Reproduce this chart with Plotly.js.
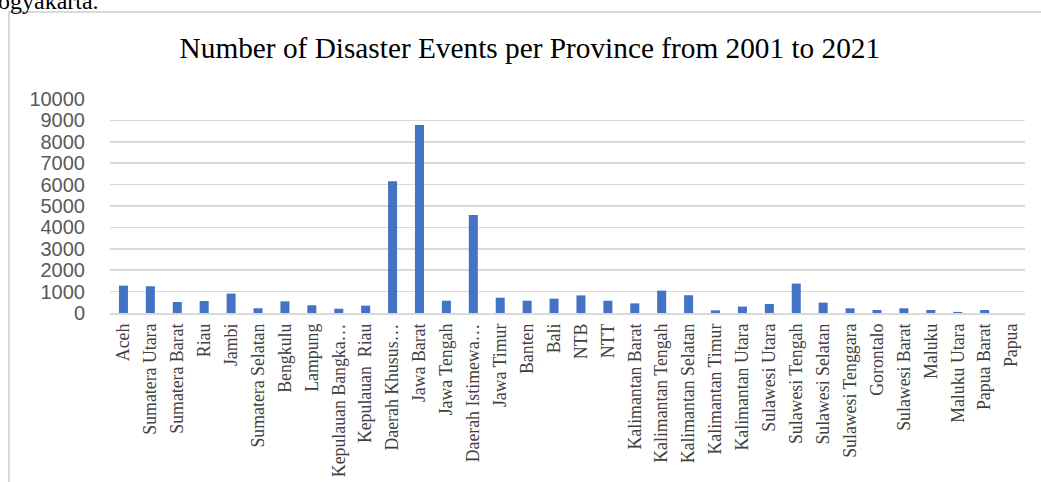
<!DOCTYPE html>
<html>
<head>
<meta charset="utf-8">
<script src="https://cdn.plot.ly/plotly-3.0.1.min.js"></script>
<style>
  html, body { margin: 0; padding: 0; background: #fff; overflow: hidden; }
  #wrap { position: relative; width: 1041px; height: 482px; overflow: hidden; }
  #frame { position: absolute; left: 8px; top: 11px; width: 1100px; height: 600px;
           border-left: 2px solid #d9d9d9; border-top: 2px solid #d9d9d9; box-sizing: border-box; }
  #doc { position: absolute; left: -2px; top: -12px; font-family: "Liberation Serif", "Times New Roman", serif;
         font-size: 24px; line-height: 26px; color: #000; white-space: nowrap; }
  #chart { position: absolute; left: 0; top: 0; width: 1041px; height: 482px; }
</style>
</head>
<body>
<div id="wrap">
  <div id="frame"></div>
  <div id="chart"></div>
  <div id="doc">ogyakarta.</div>
</div>
<script>
const provinces = [
  "Aceh", "Sumatera Utara", "Sumatera Barat", "Riau", "Jambi", "Sumatera Selatan",
  "Bengkulu", "Lampung", "Kepulauan Bangka…", "Kepulauan  Riau", "Daerah Khusus…",
  "Jawa Barat", "Jawa Tengah", "Daerah Istimewa…", "Jawa Timur", "Banten", "Bali",
  "NTB", "NTT", "Kalimantan Barat", "Kalimantan Tengah", "Kalimantan Selatan",
  "Kalimantan Timur", "Kalimantan Utara", "Sulawesi Utara", "Sulawesi Tengah",
  "Sulawesi Selatan", "Sulawesi Tenggara", "Gorontalo", "Sulawesi Barat", "Maluku",
  "Maluku Utara", "Papua Barat", "Papua"
];
const events = [
  1280, 1250, 515, 560, 905, 220,
  545, 360, 200, 345, 6160,
  8790, 575, 4580, 715, 575, 668,
  823, 575, 450, 1045, 830,
  125, 300, 420, 1375,
  485, 220, 140, 220, 140,
  50, 140, 0
];
const yTicks = [0, 1000, 2000, 3000, 4000, 5000, 6000, 7000, 8000, 9000, 10000];
const chartTitle = "Number of Disaster Events per Province from 2001 to 2021";

const trace = {
  type: "bar",
  x: provinces,
  y: events,
  marker: { color: "#4472c4" },
  hoverinfo: "x+y"
};

const layout = {
  width: 1041,
  height: 482,
  paper_bgcolor: "rgba(0,0,0,0)",
  plot_bgcolor: "rgba(0,0,0,0)",
  margin: { l: 110, r: 16, t: 99, b: 169 },
  bargap: 0.665,
  showlegend: false,
  title: {
    text: chartTitle,
    font: { family: "Liberation Serif, Times New Roman, serif", size: 29.3, color: "#000" },
    xref: "container", x: 0.509, xanchor: "center",
    yref: "container", y: 0.90, yanchor: "middle"
  },
  xaxis: {
    type: "category",
    tickangle: -90,
    tickfont: { family: "Liberation Serif, Times New Roman, serif", size: 17.8, color: "#404040" },
    showgrid: false,
    showline: true,
    linecolor: "#d9d9d9",
    linewidth: 1.5,
    ticks: "outside",
    ticklen: 2,
    tickcolor: "rgba(0,0,0,0)",
    automargin: false
  },
  yaxis: {
    range: [0, 10000],
    tickvals: yTicks,
    ticktext: yTicks.map(String),
    tickfont: { family: "Liberation Sans, Arial, sans-serif", size: 20, color: "#595959" },
    showgrid: true,
    gridcolor: "#d9d9d9",
    gridwidth: 1.5,
    zeroline: false,
    showline: false,
    ticks: "outside",
    ticklen: 20,
    tickcolor: "rgba(0,0,0,0)",
    automargin: false
  }
};

Plotly.newPlot("chart", [trace], layout, { displayModeBar: false, staticPlot: true });
</script>
</body>
</html>
